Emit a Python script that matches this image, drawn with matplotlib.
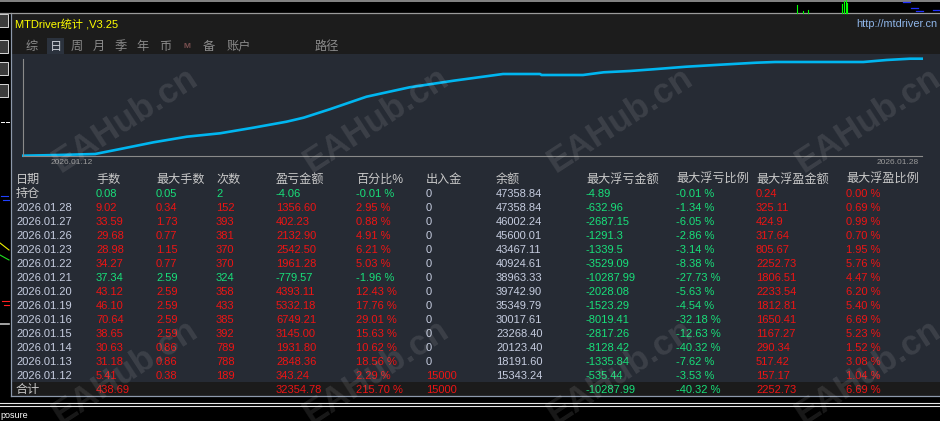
import matplotlib
matplotlib.use('Agg')
import matplotlib.pyplot as plt
from matplotlib.patches import Rectangle

plt.rcParams['font.family'] = ['Liberation Sans', 'Noto Sans CJK SC', 'DejaVu Sans']

# ---- data ----
# balance curve (share of trades in %, account balance)
trade_pct = [0, 3.9, 8.0, 10.8, 14.5, 18.2, 21.9, 25.6, 29.3, 31.2, 34.1, 38.2, 43.0, 47.9,
             53.4, 57.5, 57.7, 62.3, 64.6, 67.5, 70.1, 73.8, 77.6, 81.6, 83.7, 93.5, 96.1, 98.7, 100]
curve_balance = [15000, 15234, 15567, 17235, 19470, 21338, 22473, 24341, 26342, 27677, 30479,
                 34682, 37818, 40020, 42255, 42255, 41921, 41921, 42822, 43256, 43823, 44690,
                 45358, 46025, 46258, 46258, 46925, 47359, 47359]

headers = ['日期', '手数', '最大手数', '次数', '盈亏金额', '百分比%', '出入金', '余额',
           '最大浮亏金额', '最大浮亏比例', '最大浮盈金额', '最大浮盈比例']

hold_row = ['持仓', '0.08', '0.05', '2', '-4.06', '-0.01 %', '0', '47358.84',
            '-4.89', '-0.01 %', '0.24', '0.00 %']

dates = ['2026.01.28', '2026.01.27', '2026.01.26', '2026.01.23', '2026.01.22', '2026.01.21',
         '2026.01.20', '2026.01.19', '2026.01.16', '2026.01.15', '2026.01.14', '2026.01.13',
         '2026.01.12']
lots = ['9.02', '33.59', '29.68', '28.98', '34.27', '37.34', '43.12', '46.10', '70.64',
        '38.65', '30.63', '31.18', '5.41']
max_lots = ['0.34', '1.73', '0.77', '1.15', '0.77', '2.59', '2.59', '2.59', '2.59', '2.59',
            '0.86', '0.86', '0.38']
trades = ['152', '393', '381', '370', '370', '324', '358', '433', '385', '392', '789', '788', '189']
pnl = ['1356.60', '402.23', '2132.90', '2542.50', '1961.28', '-779.57', '4393.11', '5332.18',
       '6749.21', '3145.00', '1931.80', '2848.36', '343.24']
pnl_pct = ['2.95', '0.88', '4.91', '6.21', '5.03', '-1.96', '12.43', '17.76', '29.01', '15.63',
           '10.62', '18.56', '2.29']
flows = ['0', '0', '0', '0', '0', '0', '0', '0', '0', '0', '0', '0', '15000']
balance = ['47358.84', '46002.24', '45600.01', '43467.11', '40924.61', '38963.33', '39742.90',
           '35349.79', '30017.61', '23268.40', '20123.40', '18191.60', '15343.24']
max_dd = ['-632.96', '-2687.15', '-1291.3', '-1339.5', '-3529.09', '-10287.99', '-2028.08',
          '-1523.29', '-8019.41', '-2817.26', '-8128.42', '-1335.84', '-535.44']
max_dd_pct = ['-1.34', '-6.05', '-2.86', '-3.14', '-8.38', '-27.73', '-5.63', '-4.54', '-32.18',
              '-12.63', '-40.32', '-7.62', '-3.53']
max_fp = ['325.11', '424.9', '317.64', '805.67', '2252.73', '1806.51', '2233.54', '1812.81',
          '1650.41', '1167.27', '290.34', '517.42', '157.17']
max_fp_pct = ['0.69', '0.99', '0.70', '1.95', '5.76', '4.47', '6.20', '5.40', '6.69', '5.23',
              '1.52', '3.08', '1.04']

total_row = ['合计', '438.69', '', '', '32354.78', '215.70 %', '15000', '',
             '-10287.99', '-40.32 %', '2252.73', '6.69 %']

tabs = ['综', '日', '周', '月', '季', '年', '币', 'M', '备', '账户', '路径']
axis_dates = ['2026.01.12', '2026.01.28']

# ---- colours ----
RED = '#ee1414'
GREEN = '#18e07a'
LIGHT = '#c6cde0'
HDR = '#c8c8c8'
PANEL = '#262b34'
TITLEBG = '#1c1c1c'

W, H = 940, 421
fig = plt.figure(figsize=(9.4, 4.21), dpi=100, facecolor='black')
base = fig.add_axes([0, 0, 1, 1])
base.set_xlim(0, W)
base.set_ylim(H, 0)
base.axis('off')
base.set_facecolor('black')

# panel backgrounds
base.add_patch(Rectangle((10.7, 13.3), W - 10.7, 41, color=TITLEBG, lw=0))
base.add_patch(Rectangle((10.7, 54.3), W - 10.7, 327.7, color=PANEL, lw=0))
base.add_patch(Rectangle((10.7, 382), W - 10.7, 14, color='#1b1b1b', lw=0))
base.plot([10.7, 10.7], [13.3, 396], color='#8d99ab', lw=0.9)
base.plot([10.7, W], [396, 396], color='#8d99ab', lw=0.9)
base.plot([0, W], [13.3, 13.3], color='#9a9a9a', lw=0.9)
base.plot([0, W], [0.8, 0.8], color='#9a9a9a', lw=1.2)
base.plot([0, W], [403, 403], color='#e8e8e8', lw=0.8)
base.plot([0, W], [405.8, 405.8], color='#e8e8e8', lw=0.8)
base.text(0, 415, 'posure', color='white', fontsize=6.5, va='center', ha='left')

# left tool buttons / chart scraps
for yb in [14, 39.5, 62, 84]:
    base.add_patch(Rectangle((-2, yb), 10, 13, facecolor='#3c3c3c', edgecolor='#d8d8d8', lw=0.7))
base.plot([1, 3.5], [122, 122], color='white', lw=0.7)
base.plot([6, 8.5], [122, 122], color='white', lw=0.7)
base.plot([1, 8], [196, 196], color='#2040ff', lw=0.8)
base.plot([3, 9], [200, 200], color='#2040ff', lw=0.8)
base.plot([0, 9], [243, 250], color='#f0f000', lw=0.8)
base.plot([0, 9], [255, 260], color='#20e020', lw=0.8)
base.plot([2, 9], [301, 301], color='#ff2020', lw=0.8)
base.plot([4, 9], [305, 305], color='#ff2020', lw=0.8)
base.plot([0, 9], [324, 324], color='#c0c0c0', lw=1.2)

# top strip scraps (other chart behind)
for xg, y0 in [(797, 5), (802.5, 11), (808, 9.5), (842, 4), (844, 1), (845.5, 0), (847, 3)]:
    base.plot([xg, xg], [y0, 13], color='#00ff00', lw=0.8)
for x0, x1, yy in [(903, 910, 2), (911, 918, 7.5), (916, 923, 11), (933, 940, 10)]:
    base.plot([x0, x1], [yy, yy], color='#2030ff', lw=0.9)

# title bar
base.text(15, 24, 'MTDriver统计 ,V3.25', color='#ffff00', fontsize=8, va='center', ha='left')
base.text(937, 24, 'http://mtdriver.cn', color='#8fb6ea', fontsize=7.8, va='center', ha='right')

# tab row
tab_x = [32, 55.5, 77, 99, 121, 143, 165, 187, 209, 238.5, 327]
base.add_patch(Rectangle((46.7, 37.7), 17.6, 16.6, color='#2b323d', lw=0))
for t, xt in zip(tabs, tab_x):
    if t == '日':
        c, fs = '#c8ccd4', 8.8
    elif t == 'M':
        c, fs = '#7a5050', 6
    else:
        c, fs = '#8a8a8a', 8.8
    base.text(xt, 46.7, t, color=c, fontsize=fs, va='center', ha='center',
              fontweight='bold' if t == 'M' else 'normal')

# balance curve
ax = fig.add_axes([23.3 / W, 1 - 155.7 / H, 898.4 / W, 97 / H])
ax.set_facecolor('none')
ax.set_xlim(0, 100)
ax.set_ylim(15000, 47358.84)
ax.plot(trade_pct, curve_balance, color='#00b6f0', lw=1.9, clip_on=False,
        solid_joinstyle='miter')
for s in ['top', 'right']:
    ax.spines[s].set_visible(False)
for s in ['left', 'bottom']:
    ax.spines[s].set_color('#8a8a8a')
    ax.spines[s].set_linewidth(0.8)
ax.set_xticks([])
ax.set_yticks([])

base.text(72, 163, axis_dates[0], color='#9a9a9a', fontsize=6, va='center', ha='center')
base.text(898, 163, axis_dates[1], color='#9a9a9a', fontsize=6, va='center', ha='center')

# table
col_x = [16, 96, 156, 216, 276, 356, 426, 496, 586, 676, 756, 846]
FS = 8
FS_CJK = 8.7


def put_row(y, cells, colors, first_cjk=False, all_cjk=False):
    for k, (xc, txt, c) in enumerate(zip(col_x, cells, colors)):
        if txt:
            fs = FS_CJK if (all_cjk or (first_cjk and k == 0)) else FS
            base.text(xc, y + 4, txt, color=c, fontsize=fs, va='baseline', ha='left')


put_row(179, headers, [HDR] * len(headers), all_cjk=True)
put_row(193, hold_row, [HDR, GREEN, GREEN, GREEN, GREEN, GREEN, LIGHT, LIGHT,
                        GREEN, GREEN, RED, RED], first_cjk=True)

for i in range(len(dates)):
    y = 207 + 14 * i
    sc = GREEN if pnl[i].startswith('-') else RED
    cells = [dates[i], lots[i], max_lots[i], trades[i], pnl[i], pnl_pct[i] + ' %', flows[i],
             balance[i], max_dd[i], max_dd_pct[i] + ' %', max_fp[i], max_fp_pct[i] + ' %']
    colors = [LIGHT, sc, sc, sc, sc, sc, LIGHT if flows[i] == '0' else RED, LIGHT,
              GREEN, GREEN, RED, RED]
    put_row(y, cells, colors)

put_row(389, total_row, [HDR, RED, RED, RED, RED, RED, RED, LIGHT, GREEN, GREEN, RED, RED],
        first_cjk=True)

# watermarks (cut by the lower edge, as in the screenshot)
for cx in [125, 376, 620, 868]:
    for cy in [120, 372]:
        fig.text(cx / W, 1 - cy / H, 'EAHub.cn', color='white', alpha=0.1, fontsize=25,
                 fontweight='bold', rotation=33, ha='center', va='center',
                 rotation_mode='anchor')

fig.savefig('out.png', dpi=100, facecolor='black')
